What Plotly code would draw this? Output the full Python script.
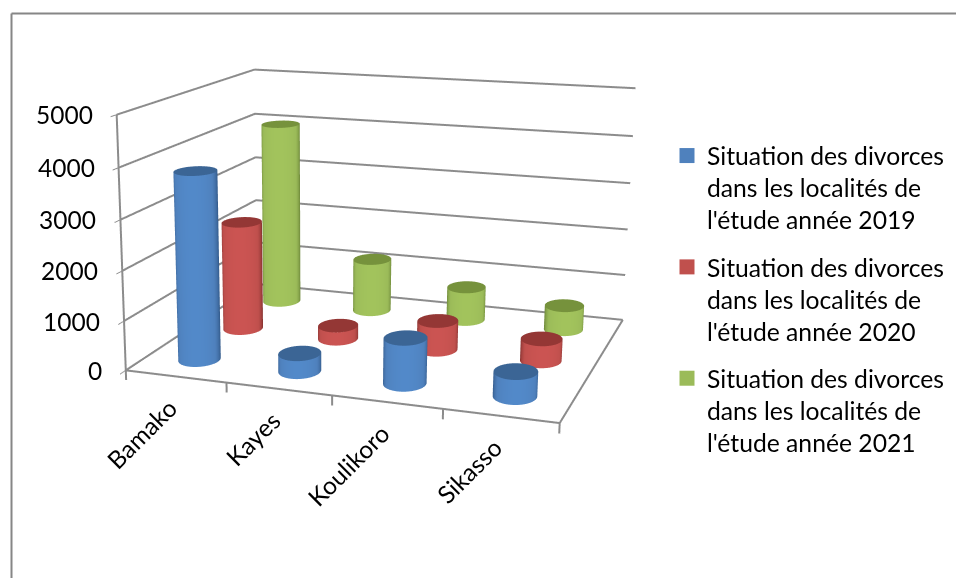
import numpy as np
import plotly.graph_objects as go

categories = ["Bamako", "Kayes", "Koulikoro", "Sikasso"]
series_names = [
    "Situation des divorces<br>dans les localités de<br>l'étude année 2019",
    "Situation des divorces<br>dans les localités de<br>l'étude année 2020",
    "Situation des divorces<br>dans les localités de<br>l'étude année 2021",
]
values_2019 = [3800, 360, 900, 480]
values_2020 = [2300, 280, 600, 450]
values_2021 = [4000, 1150, 720, 520]
z_ticks = [0, 1000, 2000, 3000, 4000, 5000]

all_values = [values_2019, values_2020, values_2021]
side_scales = [
    ["#335a8a", "#4f81bd", "#5289c9"],
    ["#84312f", "#c0504d", "#cb5452"],
    ["#6a8437", "#9bbb59", "#a2c35c"],
]
legend_cols = ["#4f81bd", "#c0504d", "#9bbb59"]
top_cols = ["#3b6595", "#943735", "#76923c"]

FONT = "Lato"
GRAY = "#8c8c8c"
RADIUS_X = 0.19
RADIUS_Y = 0.22
# Excel's default 3D view has a much narrower field of view than Plotly's fixed 45 degrees,
# which scales with the scene height: a larger scene, offset by CSS, gives the same lens.
FIG_W = 1272
FIG_H = 1285
LEFT_OFF = 316
TOP_OFF = 353
px = lambda x: (x + LEFT_OFF)/FIG_W
py = lambda y: 1 - (y + TOP_OFF)/FIG_H

theta = np.radians(20)
pitch = np.radians(15.6)
dist = 6.22
R = np.array([np.cos(theta), np.sin(theta), 0])
F = np.array([-np.sin(theta)*np.cos(pitch), np.cos(theta)*np.cos(pitch), -np.sin(pitch)])
U = np.array([-np.sin(theta)*np.sin(pitch), np.cos(theta)*np.sin(pitch), np.cos(pitch)])
center = -0.275*R - 0.262*U + np.array([0, 0, 0.02])
eye = center - dist*F

fig = go.Figure()
phi = np.linspace(0, 2*np.pi, 73)
phi_cam = np.arctan2(-np.cos(theta), np.sin(theta))
light = dict(ambient=1, diffuse=0, specular=0, fresnel=0, roughness=1)
for s, vals in enumerate(all_values):
    cs = [[0, side_scales[s][0]], [0.55, side_scales[s][1]], [1, side_scales[s][2]]]
    for i, v in enumerate(vals):
        cx, cy = i + 0.5, s + 0.5
        X = np.vstack([cx + RADIUS_X*np.cos(phi)]*2)
        Y = np.vstack([cy + RADIUS_Y*np.sin(phi)]*2)
        Z = np.vstack([np.zeros_like(phi), np.full_like(phi, v)])
        shade = np.clip(np.cos(phi - phi_cam), 0, 1)
        fig.add_trace(go.Surface(x=X, y=Y, z=Z, surfacecolor=np.vstack([shade]*2),
                                 colorscale=cs, cmin=0, cmax=1, showscale=False,
                                 lighting=light, hoverinfo="skip"))
        rr = np.array([0, 1.0])
        fig.add_trace(go.Surface(x=cx + RADIUS_X*np.outer(rr, np.cos(phi)),
                                 y=cy + RADIUS_Y*np.outer(rr, np.sin(phi)),
                                 z=np.full((2, phi.size), v), surfacecolor=np.zeros((2, phi.size)),
                                 colorscale=[[0, top_cols[s]], [1, top_cols[s]]], showscale=False,
                                 lighting=light, hoverinfo="skip"))

n = len(categories)
m = len(series_names)
top = z_ticks[-1]
ZMIN = -200
ZMAX = 5030
edges_x = [0, n, n, None, 0, 0]
edges_y = [0, 0, m, None, 0, 0]
edges_z = [0, 0, 0, None, 0, top]
for k in range(n + 1):
    edges_x += [None, k, k]
    edges_y += [None, 0, 0]
    edges_z += [None, 0, ZMIN]
for v in z_ticks:
    edges_x += [None, 0, 0, n]
    edges_y += [None, 0, m, m]
    edges_z += [None, v, v, v]
fig.add_trace(go.Scatter3d(x=edges_x, y=edges_y, z=edges_z, mode="lines",
                           line=dict(color=GRAY, width=4), showlegend=False, hoverinfo="skip"))

for name, col in zip(series_names, legend_cols):
    fig.add_trace(go.Scatter(x=[None], y=[None], mode="markers", name=name, legendgroup=name,
                             marker=dict(symbol="square", size=15, color=col)))

annotations3d = [dict(x=i+0.5, y=0, z=0, text=c, textangle=-45, showarrow=False,
                      xanchor="right", yanchor="top", xshift=10, yshift=-14,
                      font=dict(family=FONT, size=24.5, color="#000000"))
                 for i, c in enumerate(categories)]
annotations3d += [dict(x=0, y=0, z=v, text=str(v), showarrow=False, xanchor="right",
                       yanchor="middle", xshift=-22,
                       font=dict(family=FONT, size=24.5, color="#000000"))
                  for v in z_ticks]

def blank_axis(rng, **kw):
    d = dict(range=rng, showgrid=False, zeroline=False, showbackground=False,
             showticklabels=False, title="", showspikes=False, showline=False, ticks="")
    d.update(kw)
    return d

fig.update_layout(
    width=FIG_W, height=FIG_H, margin=dict(l=0, r=0, t=0, b=0),
    paper_bgcolor="white", plot_bgcolor="white", hovermode=False,
    font=dict(family=FONT, size=24.5, color="#000000"),
    xaxis=dict(visible=False), yaxis=dict(visible=False),
    scene=dict(
        domain=dict(x=[0, 1], y=[0, 1]),
        aspectmode="manual", aspectratio=dict(x=1.702, y=1.345, z=1.046),
        camera=dict(eye=dict(x=eye[0], y=eye[1], z=eye[2]),
                    center=dict(x=center[0], y=center[1], z=center[2]),
                    up=dict(x=0, y=0, z=1)),
        xaxis=blank_axis([0, n]),
        yaxis=blank_axis([0, m]),
        zaxis=blank_axis([ZMIN, ZMAX], tickvals=z_ticks,
                         ticks="outside", ticklen=8, tickcolor=GRAY, tickwidth=2),
        annotations=annotations3d,
    ),
    legend=dict(x=px(667), y=py(133), xanchor="left", yanchor="top", valign="top",
                font=dict(family=FONT, size=24.7, color="#000000"),
                itemsizing="trace", tracegroupgap=12, bgcolor="rgba(0,0,0,0)"),
    showlegend=True,
    shapes=[
        dict(type="line", xref="paper", yref="paper", x0=px(11.5), x1=px(956), y0=py(13.5), y1=py(13.5),
             line=dict(color="#868686", width=2)),
        dict(type="line", xref="paper", yref="paper", x0=px(11.5), x1=px(11.5), y0=py(578), y1=py(13.5),
             line=dict(color="#868686", width=2)),
    ],
)
post = ("document.body.style.margin='0';document.body.style.overflow='hidden';"
        "document.documentElement.style.overflow='hidden';"
        "document.body.style.height='578px';document.body.style.width='956px';"
        f"var el=document.getElementById('{{plot_id}}');el.style.marginTop='-{TOP_OFF}px';"
        f"el.style.marginLeft='-{LEFT_OFF}px';")
fig.write_html("out.html", post_script=post)
